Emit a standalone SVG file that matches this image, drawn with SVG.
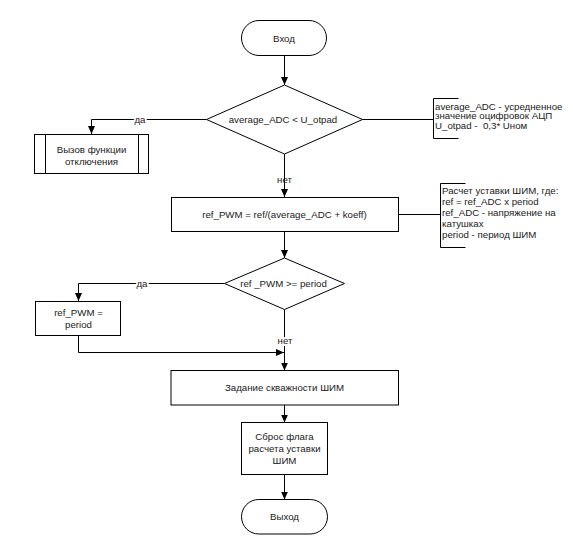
<svg xmlns="http://www.w3.org/2000/svg" width="573" height="543" viewBox="0 0 573 543">
<defs>
<marker id="arr" markerUnits="userSpaceOnUse" markerWidth="8" markerHeight="7" refX="8" refY="3.5" orient="auto">
<path d="M0,0 L8,3.5 L0,7 z" fill="#000"/>
</marker>
<style>
.shape{fill:#fff;stroke:#000;stroke-width:1}
.line{fill:none;stroke:#000;stroke-width:1}
.arrow{fill:none;stroke:#000;stroke-width:1;marker-end:url(#arr)}
text{font-family:"Liberation Sans",Arial,sans-serif;font-size:9.7px;fill:#1a1a1a;white-space:pre}
.c{text-anchor:middle}
.halo{stroke:#fff;stroke-width:4;paint-order:stroke;stroke-linejoin:round}
</style>
</defs>
<rect width="573" height="543" fill="#fff"/>

<g id="connectors">
<path class="arrow" d="M284.5,55.5 V85"/>
<path class="arrow" d="M206.5,119.5 H91.5 V134"/>
<path class="line" d="M362.5,119.5 H433.5"/>
<path class="arrow" d="M284.5,154 V197"/>
<path class="line" d="M398.5,214.5 H440.5"/>
<path class="arrow" d="M284.5,231.5 V258"/>
<path class="arrow" d="M224.5,283.5 H78.5 V301"/>
<path class="arrow" d="M78.5,335.5 V352.5 H284"/>
<path class="arrow" d="M284.5,309.5 V370.5"/>
<path class="arrow" d="M284.5,405 V422.5"/>
<path class="arrow" d="M284.5,474.5 V499.5"/>
<text class="c halo" x="140" y="122.8">да</text>
<text class="c" x="284.5" y="182.8">нет</text>
<text class="c halo" x="142" y="286.8">да</text>
<text class="c halo" x="285" y="344">нет</text>
</g>

<g id="start">
<rect class="shape" x="241.5" y="20.5" width="85" height="35" rx="17.5" ry="17.5"/>
<text class="c" x="284" y="41.5">Вход</text>
</g>

<g id="cond1">
<polygon class="shape" points="284.5,85 362.5,119.5 284.5,154 206.5,119.5"/>
<text class="c" x="283" y="122.8">average_ADC &lt; U_otpad</text>
</g>

<g id="shutdown">
<rect class="shape" x="34.5" y="134.5" width="114" height="39"/>
<path class="line" d="M45.5,134.5 V173.5 M138.5,134.5 V173.5"/>
<text class="c" x="91.5" y="152.5">Вызов функции</text>
<text class="c" x="91.5" y="164.5">отключения</text>
</g>

<g id="note1">
<path class="line" d="M458.5,98.5 H433.5 V138.5 H458.5"/>
<text x="435" y="109.5">average_ADC - усредненное</text>
<text x="435" y="119.2">значение оцифровок АЦП</text>
<text x="435" y="128.7" xml:space="preserve">U_otpad -  0,3* Uном</text>
</g>

<g id="calc">
<rect class="shape" x="171.5" y="197.5" width="227" height="34"/>
<text class="c" x="284.5" y="217.8">ref_PWM = ref/(average_ADC + koeff)</text>
</g>

<g id="note2">
<path class="line" d="M465.5,183.5 H440.5 V247.5 H465.5"/>
<text x="442" y="194.3">Расчет уставки ШИМ, где:</text>
<text x="442" y="205.1">ref = ref_ADC x period</text>
<text x="442" y="215.9">ref_ADC - напряжение на</text>
<text x="442" y="226.7">катушках</text>
<text x="442" y="237.5">period - период ШИМ</text>
</g>

<g id="cond2">
<polygon class="shape" points="284.5,258 344.5,283.5 284.5,309.5 224.5,283.5"/>
<text class="c" x="283.5" y="286.5">ref _PWM &gt;= period</text>
</g>

<g id="limit">
<rect class="shape" x="35.5" y="301.5" width="85" height="34"/>
<text class="c" x="78.5" y="316">ref_PWM =</text>
<text class="c" x="78.5" y="327.5">period</text>
</g>

<g id="duty">
<rect class="shape" x="171" y="370.5" width="227.5" height="34.5"/>
<text class="c" x="284.5" y="391">Задание скважности ШИМ</text>
</g>

<g id="reset">
<rect class="shape" x="241.5" y="422.5" width="86" height="52"/>
<text class="c" x="284.5" y="440.3">Сброс флага</text>
<text class="c" x="284.5" y="452">расчета уставки</text>
<text class="c" x="284.5" y="463.7">ШИМ</text>
</g>

<g id="end">
<rect class="shape" x="241.5" y="499.5" width="86" height="34.5" rx="17.25" ry="17.25"/>
<text class="c" x="284.5" y="520">Выход</text>
</g>
</svg>
